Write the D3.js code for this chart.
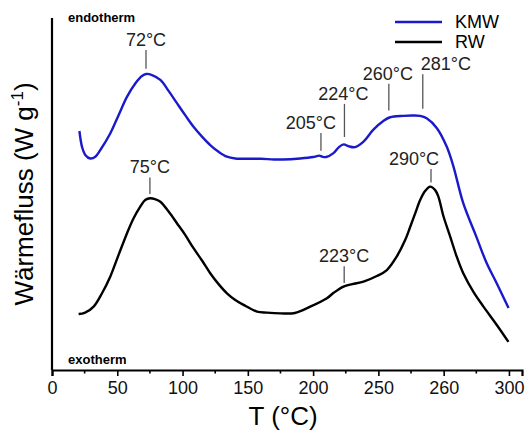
<!DOCTYPE html>
<meta charset="utf-8">
<style>
body { margin: 0; background: #fff; }
svg { font-family: "Liberation Sans", Arial, sans-serif; }
.tick text { font-size: 18px; fill: #111; }
.peak text { font-size: 18px; fill: #222; }
</style>
<body>
<script src="https://d3js.org/d3.v7.min.js"></script>
<script>

// temperatures (°C) and heat flow (arbitrary units)
var kmwT = [21, 23, 25.5, 29.3, 33.2, 37, 44.6, 51, 57.4, 63.8, 68.9, 72.2, 76.6, 83, 89.3, 95.7, 102, 108.4, 114.9, 121.2, 127.6, 134, 140.4, 150, 160, 170, 177, 190, 200, 204.7, 207, 210, 215.6, 220, 223.5, 227, 232, 238.6, 246, 254, 259, 269, 276, 282, 287, 294.8, 302.4, 307.5, 315, 325, 333, 340.7, 349.7];
var kmwQ = [67.9, 63.4, 61.1, 60.1, 60.6, 62.5, 67.2, 72.4, 77.6, 81.4, 83.5, 84.1, 83.8, 82.4, 79.3, 75.8, 72.4, 69.1, 66.3, 63.9, 62.0, 60.6, 60.1, 60.0, 60.0, 59.8, 59.8, 60.1, 60.5, 60.9, 60.6, 60.5, 61.6, 63.4, 64.1, 63.6, 63.3, 64.9, 68.2, 70.8, 71.8, 72.2, 72.3, 72.2, 71.5, 68.7, 63.4, 57.8, 47.4, 37.9, 30.3, 24.6, 17.6];

var rwT = [20.4, 25, 31.9, 38.3, 44.6, 51, 57.4, 62.5, 67.6, 71.4, 75.3, 79.1, 83, 89.3, 95.7, 102, 108.4, 114.9, 121.2, 127.6, 134, 140.4, 146.7, 157, 164.6, 175, 186, 197.8, 210.6, 216, 223.3, 230, 238.6, 248.8, 256.5, 264, 270.5, 274.4, 278.2, 282, 285.9, 289.7, 293.5, 296, 299.9, 305, 310, 315, 322.8, 330.5, 340.7, 349.6];
var rwQ = [15.9, 16.2, 18.0, 21.8, 26.5, 32.7, 38.8, 43.1, 46.4, 48.3, 48.8, 48.5, 47.8, 45.0, 41.7, 38.4, 34.6, 31.1, 27.5, 24.4, 21.8, 19.9, 18.5, 16.6, 16.3, 16.1, 16.2, 18.0, 20.4, 22.0, 23.7, 24.4, 25.1, 26.7, 28.4, 32.2, 36.9, 40.7, 44.5, 48.3, 50.9, 52.1, 51.1, 49.2, 43.6, 37.9, 32.2, 27.5, 22.2, 18.0, 12.8, 8.0];

var seriesNames = ["KMW", "RW"];
var seriesColors = ["#1a1acb", "#000000"];

// x ticks as printed on the original axis
var tickValues = [0, 50, 100, 150, 200, 250, 300, 350];
var tickLabels = ["0", "50", "100", "150", "200", "250", "260", "300"];
var minorTicks = [25, 75, 125, 175, 225, 275, 325];

// peak markers: where the line sits, its text, line bottom / top (heat flow units)
var peakAt = [72, 75, 206, 224, 258, 284, 290.3, 223.8];
var peakText = ["72°C", "75°C", "205°C", "224°C", "260°C", "281°C", "290°C", "223°C"];
var peakLow = [85.6, 50.0, 62.3, 66.2, 73.7, 74.2, 53.3, 24.7];
var peakHigh = [90.9, 54.7, 67.3, 75.6, 81.3, 84.0, 57.1, 29.5];

var W = 525, H = 432;
var margin = {top: 18, left: 52, right: 3, bottom: 62};
var width = W - margin.left - margin.right,
    height = H - margin.top - margin.bottom;

var x = d3.scaleLinear().domain([0, 360]).range([0, width]);
var y = d3.scaleLinear().domain([0, 100]).range([height, 0]);

var svg = d3.select("body").append("svg")
    .attr("width", W)
    .attr("height", H)
  .append("g")
    .attr("transform", "translate(" + margin.left + "," + margin.top + ")");

// curves
var line = d3.line()
    .x(function(d) { return x(d[0]); })
    .y(function(d) { return y(d[1]); })
    .curve(d3.curveCatmullRom.alpha(0.5));

var curves = [d3.zip(kmwT, kmwQ), d3.zip(rwT, rwQ)];
curves.forEach(function(c, i) {
  svg.append("path")
      .datum(c)
      .attr("fill", "none")
      .attr("stroke", seriesColors[i])
      .attr("stroke-width", 2.4)
      .attr("stroke-linejoin", "round")
      .attr("d", line);
});

// x axis with major + minor ticks
var xAxis = svg.append("g")
    .attr("transform", "translate(0," + height + ")")
    .call(d3.axisBottom(x).tickValues(tickValues).tickSize(6).tickPadding(5)
      .tickFormat(function(d, i) { return tickLabels[i]; }));
xAxis.select(".domain").attr("stroke", "#000").attr("stroke-width", 2.2);
xAxis.selectAll(".tick line").attr("stroke", "#000").attr("stroke-width", 1.6);
xAxis.selectAll(".tick text").attr("font-family", null).attr("font-size", null);
svg.append("g")
    .attr("transform", "translate(0," + height + ")")
  .selectAll("line")
  .data(minorTicks)
  .enter().append("line")
    .attr("x1", function(d) { return x(d); })
    .attr("x2", function(d) { return x(d); })
    .attr("y2", 3.5)
    .attr("stroke", "#000")
    .attr("stroke-width", 1.6);

// y axis: plain line, no ticks
svg.append("line")
    .attr("x1", 0).attr("x2", 0)
    .attr("y1", 0).attr("y2", height)
    .attr("stroke", "#000")
    .attr("stroke-width", 2.2);

// axis titles
svg.append("text")
    .attr("x", x(177))
    .attr("y", height + 55)
    .attr("text-anchor", "middle")
    .style("font-size", "26px")
    .text("T (°C)");

var yTitle = svg.append("text")
    .attr("transform", "translate(-19," + y(50) + ") rotate(-90)")
    .attr("text-anchor", "middle")
    .style("font-size", "26px");
yTitle.append("tspan").text("Wärmefluss (W g");
yTitle.append("tspan").attr("dy", -10).style("font-size", "17px").text("-1");
yTitle.append("tspan").attr("dy", 10).text(")");

svg.append("text")
    .attr("x", 16).attr("y", 4)
    .style("font-size", "13px").style("font-weight", "bold")
    .text("endotherm");
svg.append("text")
    .attr("x", 16).attr("y", height - 6)
    .style("font-size", "13px").style("font-weight", "bold")
    .text("exotherm");

// peak markers
var labelShift = [0, 0, -10, -1, -1, 23, -17, 0];
var peaks = svg.selectAll(".peak")
  .data(peakAt)
  .enter().append("g")
    .attr("class", "peak");
peaks.append("line")
    .attr("x1", function(d) { return x(d); })
    .attr("x2", function(d) { return x(d); })
    .attr("y1", function(d, i) { return y(peakLow[i]); })
    .attr("y2", function(d, i) { return y(peakHigh[i]); })
    .attr("stroke", "#555")
    .attr("stroke-width", 1.3);
peaks.append("text")
    .attr("x", function(d, i) { return x(d) + labelShift[i]; })
    .attr("y", function(d, i) { return y(peakHigh[i]) - 4; })
    .attr("text-anchor", "middle")
    .text(function(d, i) { return peakText[i]; });

// legend
var legend = svg.selectAll(".legend")
  .data(seriesNames)
  .enter().append("g")
    .attr("transform", function(d, i) { return "translate(343," + (4 + i * 20) + ")"; });
legend.append("line")
    .attr("x2", 47)
    .attr("stroke", function(d, i) { return seriesColors[i]; })
    .attr("stroke-width", 2.6);
legend.append("text")
    .attr("x", 60)
    .attr("y", 6)
    .style("font-size", "18px")
    .text(function(d) { return d; });

</script>
</body>
